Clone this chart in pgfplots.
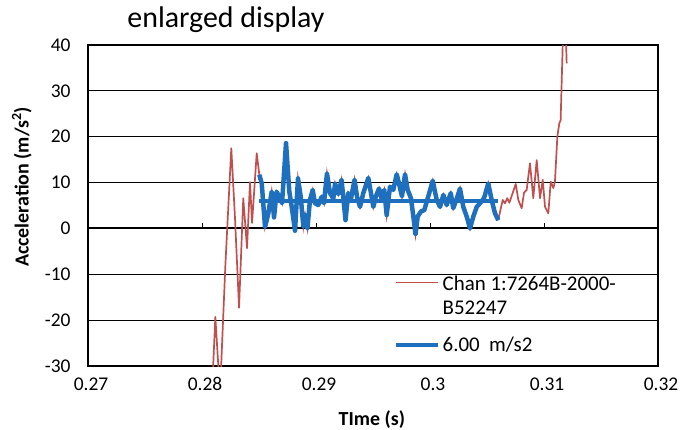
\documentclass[border=0pt]{standalone}
\usepackage{pgfplots}
\usepackage{pgfplotstable}
\pgfplotsset{compat=1.18}
\usepackage{fontspec}
\setmainfont{Carlito}

\definecolor{chanred}{RGB}{192,80,77}
\definecolor{avgblue}{RGB}{30,112,190}

% Rising edge before the evaluation window
\pgfplotstableread{
x y
0.28080 -40
0.28117 -19.3
0.28158 -36
0.28205 -8
0.28257 17.5
0.28290 2
0.28325 -17.3
0.28362 6.6
0.28395 -4.3
0.28421 10.1
0.28439 1.2
0.28480 16.4
0.28503 11.7
}\leadtab

% Evaluation window 0.285 s ... 0.306 s
\pgfplotstableread{
x y
0.28503 11.7
0.28524 9.8
0.28553 0.3
0.28582 3.3
0.28611 8.0
0.28632 2.4
0.28654 8.0
0.28680 6.8
0.28702 5.5
0.28737 18.6
0.28766 8.0
0.28787 4.7
0.28816 -0.5
0.28842 10.9
0.28866 6.9
0.28889 0.4
0.28904 3.0
0.28925 0.0
0.28947 6.2
0.28971 8.4
0.28991 5.5
0.29020 5.1
0.29050 6.9
0.29070 5.5
0.29096 12.0
0.29123 7.7
0.29152 6.5
0.29167 9.8
0.29196 7.5
0.29224 10.6
0.29259 1.8
0.29283 7.7
0.29307 6.5
0.29338 10.6
0.29360 6.9
0.29386 4.7
0.29415 7.7
0.29459 11.0
0.29482 7.7
0.29503 4.7
0.29524 6.9
0.29553 8.7
0.29575 6.5
0.29599 8.4
0.29620 2.9
0.29649 9.1
0.29678 8.4
0.29708 11.8
0.29728 9.8
0.29754 7.0
0.29781 11.8
0.29804 8.4
0.29833 6.6
0.29854 2.6
0.29873 -1.3
0.29892 2.6
0.29921 3.7
0.29950 4.0
0.29976 6.2
0.30024 10.4
0.30059 6.2
0.30088 4.7
0.30117 7.3
0.30147 5.1
0.30182 7.7
0.30204 4.4
0.30240 6.9
0.30263 8.7
0.30292 4.7
0.30322 2.6
0.30351 0.0
0.30380 2.6
0.30410 4.7
0.30439 5.5
0.30474 6.6
0.30511 9.8
0.30541 6.2
0.30570 3.3
0.30599 1.8
}\windowtab

% Signal after the evaluation window
\pgfplotstableread{
x y
0.30599 1.8
0.30614 3.6
0.30638 6.2
0.30658 5.5
0.30678 6.6
0.30696 5.6
0.30725 7.7
0.30752 9.7
0.30775 6.2
0.30804 4.4
0.30825 7.8
0.30848 8.4
0.30877 14.2
0.30906 6.6
0.30936 14.9
0.30965 6.6
0.30989 10.6
0.31009 4.7
0.31038 3.3
0.31059 10.2
0.31082 8.8
0.31096 10.2
0.31117 20.0
0.31134 22.9
0.31146 23.6
0.31164 40.0
0.31172 45.0
0.31188 45.0
0.31199 36.0
}\tailtab

\begin{document}
\begin{tikzpicture}
\path[use as bounding box] (-88bp,-64bp) rectangle (598bp,366bp);
\begin{axis}[
  at={(0,0)}, anchor=south west,
  scale only axis, width=570bp, height=321bp,
  xmin=0.27, xmax=0.32, ymin=-30, ymax=40,
  xtick={0.27,0.28,0.29,0.3,0.31,0.32},
  xticklabels={0.27,0.28,0.29,0.3,0.31,0.32},
  ytick={-30,-20,-10,0,10,20,30,40},
  major tick length=0pt,
  ymajorgrids,
  grid style={black, line width=0.9bp},
  axis line style={black, line width=1.2bp},
  /pgf/number format/assume math mode=true,
  tick label style={font=\fontsize{19.5}{22}\selectfont},
  xticklabel style={yshift=-8bp, xshift=3bp},
  yticklabel style={xshift=-14bp},
  title={enlarged display},
  title style={at={(axis description cs:0.242,1.037)}, anchor=base,
    font=\fontsize{30}{34}\selectfont},
  xlabel={TIme (s)},
  xlabel style={at={(axis description cs:0.498,-0.168)}, anchor=center,
    font=\bfseries\fontsize{20}{24}\selectfont},
  ylabel={Acceleration (m/s\textsuperscript{2})},
  ylabel style={at={(axis description cs:-0.116,0.558)}, anchor=center,
    font=\bfseries\fontsize{20}{24}\selectfont},
  legend image code/.code={\draw[#1] (0bp,0bp) -- (42bp,0bp);},
  legend cell align=left,
  legend style={at={(axis description cs:0.5316,0.3022)}, anchor=north west,
    draw=none, fill=none, font=\fontsize{21}{24.5}\selectfont,
    row sep=41bp},
]
% zero line carries the x-axis ticks
\draw[black, line width=2bp] (axis cs:0.27,0) -- (axis cs:0.32,0);
\pgfplotsinvokeforeach{0.28,0.29,0.3,0.31}{
  \draw[black, line width=1bp] (axis cs:#1,0) -- (axis cs:#1,1.1);
}
\addplot[chanred, line width=1.7bp, line join=round] table {\leadtab};
\addlegendentry{\begin{tabular}[t]{@{}l@{}}Chan 1:7264B-2000-\\B52247\end{tabular}}
\addplot[chanred, line width=1.7bp, forget plot] table {\windowtab};
\addplot[chanred, line width=1.7bp, line join=round, forget plot] table {\tailtab};
\addplot[avgblue, line width=4.5bp, line join=round] table {\windowtab};
\addlegendentry{6.00\ \ m/s2}
\addplot[avgblue, line width=4.5bp, forget plot] coordinates {(0.28503,6.00) (0.30599,6.00)};
\end{axis}
\end{tikzpicture}
\end{document}
